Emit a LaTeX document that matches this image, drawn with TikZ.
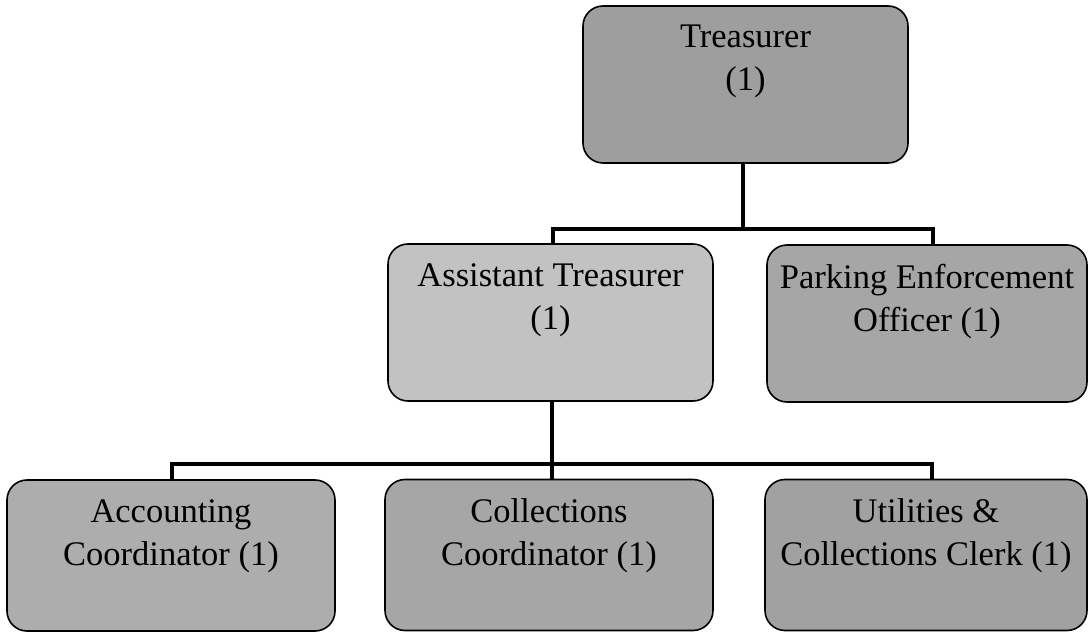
\documentclass[tikz,border=0pt]{standalone}
\usepackage{fontspec}
\setmainfont{Liberation Serif}
\begin{document}
\begin{tikzpicture}[x=1pt,y=-1pt,
  orgbox/.style={draw=black, line width=1.6pt, rounded corners=20pt,
    minimum width=325pt, minimum height=157pt, inner sep=0pt},
  lowbox/.style={orgbox, minimum height=151pt},
  boxtext/.style={anchor=north, inner sep=0pt, align=center,
    font=\fontsize{34.5}{43}\selectfont, yshift=-20pt},
  conn/.style={draw=black, line width=3.8pt}
]
\useasboundingbox (0,0) rectangle (1090,636);

% boxes
\node[orgbox, fill=black!38] (treas) at (745.5,84.5) {};
\node[orgbox, fill=black!24] (asst)  at (550.5,322.5) {};
\node[orgbox, fill=black!35, minimum width=320pt] (park) at (927,323.5) {};
\node[lowbox, fill=black!32, minimum width=328pt] (acct) at (171,555.5) {};
\node[lowbox, fill=black!35, minimum width=328pt] (coll) at (549,555) {};
\node[lowbox, fill=black!37, minimum width=322pt] (util) at (926,555) {};

% labels
\node[boxtext] (treas-t) at (treas.north) {Treasurer\\(1)};
\node[boxtext] (asst-t)  at (asst.north)  {Assistant Treasurer\\(1)};
\node[boxtext] (park-t)  at (park.north)  {Parking Enforcement\\Officer (1)};
\node[boxtext] (acct-t)  at (acct.north)  {Accounting\\Coordinator (1)};
\node[boxtext] (coll-t)  at (coll.north)  {Collections\\Coordinator (1)};
\node[boxtext] (util-t)  at (util.north)  {Utilities \&\\Collections Clerk (1)};

% reporting lines
\coordinate (bus1) at (743,229);
\coordinate (bus2) at (552,464);
\draw[conn] (bus1 |- treas.south) -- (bus1);
\draw[conn] ([xshift=2.5pt]asst.north) |- (bus1) -| ([xshift=6pt]park.north);
\draw[conn] (bus2 |- asst.south) -- (bus2);
\draw[conn] ([xshift=1pt]acct.north) |- (bus2) -| ([xshift=6pt]util.north);
\draw[conn] (bus2) -- (bus2 |- coll.north);
\end{tikzpicture}
\end{document}
